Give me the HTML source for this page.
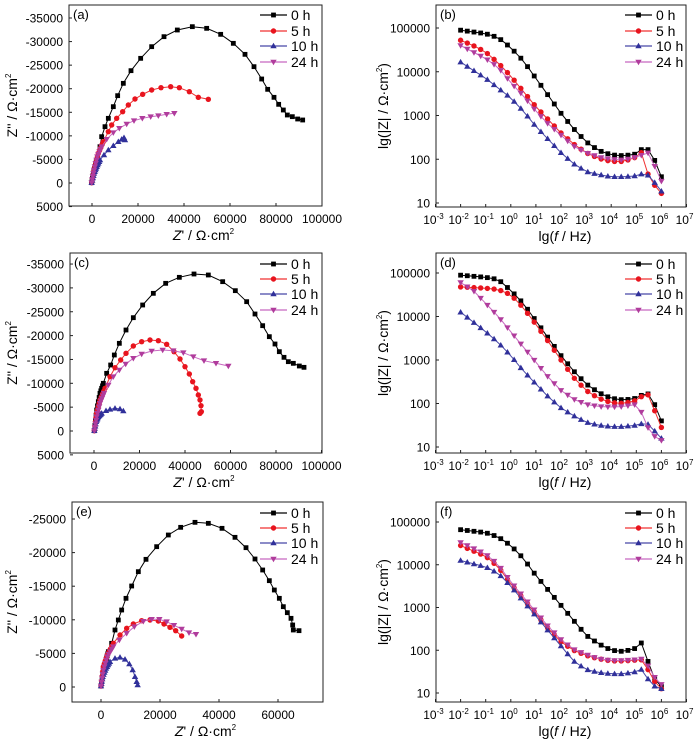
<!DOCTYPE html>
<html><head><meta charset="utf-8">
<style>
html,body{margin:0;padding:0;background:#fff;}
svg{display:block;font-family:"Liberation Sans",Arial,sans-serif;}
</style></head>
<body>
<svg id="s" width="700" height="745" viewBox="0 0 700 745" xmlns="http://www.w3.org/2000/svg"></svg>
<script>
const S=document.getElementById('s');
let h='';
const COL={k:['#000','#000'],r:['#f03030','#e8141e'],b:['#4848a8','#30309a'],m:['#c868c0','#b03c9c']};
function marker(t,x,y,c){
  if(t==='k') return `<rect x="${x-2.4}" y="${y-2.4}" width="4.8" height="4.8" fill="${c}"/>`;
  if(t==='r') return `<circle cx="${x}" cy="${y}" r="2.7" fill="${c}"/>`;
  if(t==='b') return `<polygon points="${x},${y-3.2} ${x+3.2},${y+2.3} ${x-3.2},${y+2.3}" fill="${c}"/>`;
  return `<polygon points="${x},${y+3.2} ${x+3.2},${y-2.3} ${x-3.2},${y-2.3}" fill="${c}"/>`;
}
function series(t,pts,dense){
  h+=`<polyline points="${pts.map(p=>p[0].toFixed(1)+','+p[1].toFixed(1)).join(' ')}" fill="none" stroke="${COL[t][0]}" stroke-width="1"/>`;
  pts.forEach(p=>h+=marker(t,p[0],p[1],COL[t][1]));
  if(dense){ // extra markers near origin
    for(let i=0;i<Math.min(3,pts.length-1);i++){
      const a=pts[i],b=pts[i+1];
      for(let f=0.25;f<1;f+=0.25) h+=marker(t,a[0]+(b[0]-a[0])*f,a[1]+(b[1]-a[1])*f,COL[t][1]);
    }
  }
}
function frame(l,t,r,b){h+=`<rect x="${l}" y="${t}" width="${r-l}" height="${b-t}" fill="none" stroke="#222" stroke-width="1"/>`;}
function legend(x,ys){
  ['k','r','b','m'].forEach((t,i)=>{
    h+=`<line x1="${x}" y1="${ys[i]}" x2="${x+27}" y2="${ys[i]}" stroke="${COL[t][0]}" stroke-width="1.2"/>`;
    h+=marker(t,x+13.5,ys[i],COL[t][1]);
    h+=`<text x="${x+31}" y="${ys[i]+5}" font-size="14">${['0 h','5 h','10 h','24 h'][i]}</text>`;
  });
}
function nyq(o){
  const {l,t,r,b,x0,xs,y0,ys,yt,xt,letter,oy,data,leg}=o;
  frame(l,t,r,b);
  yt.forEach(v=>{const y=y0-v*ys;h+=`<line x1="${l}" y1="${y}" x2="${l+3}" y2="${y}" stroke="#222"/><text x="${l-6}" y="${y+4.5}" font-size="12" text-anchor="end">${v===0?'0':(v>0?'-'+v:(-v))}</text>`;});
  xt.forEach(v=>{const x=x0+v*xs;h+=`<line x1="${x}" y1="${b}" x2="${x}" y2="${b-3}" stroke="#222"/><text x="${x}" y="${b+17}" font-size="12" text-anchor="middle">${v}</text>`;});
  h+=`<text x="${l+4}" y="${t+14}" font-size="13">(${letter})</text>`;
  const cy=(t+b)/2;
  h+=`<text transform="translate(17,${cy}) rotate(-90)" font-size="14" text-anchor="middle">Z'' / Ω·cm<tspan font-size="8" dy="-6">2</tspan></text>`;
  h+=`<text x="${(l+r)/2+8}" y="${b+34}" font-size="14" text-anchor="middle"><tspan font-style="italic">Z</tspan>' / Ω·cm<tspan font-size="8" dy="-6">2</tspan></text>`;
  for(const k in data) series(k,data[k].map(p=>[p[0]/3,oy+p[1]/3]),true);
  legend(260,leg);
}
function bode(o){
  const {t,b,y10,yd,letter,data,leg}=o;
  const l=436,r=686,x3=435.5,xd=25.1;
  frame(l,t,r,b);
  [1,2,3,4,5].forEach(e=>{const y=y10-(e-1)*yd;h+=`<line x1="${l}" y1="${y}" x2="${l+3}" y2="${y}" stroke="#222"/><text x="${l-6}" y="${y+4.5}" font-size="12" text-anchor="end">${Math.pow(10,e)}</text>`;});
  for(let e=-3;e<=7;e++){const x=x3+(e+3)*xd;h+=`<line x1="${x}" y1="${b}" x2="${x}" y2="${b-3}" stroke="#222"/><text x="${x-2}" y="${b+17}" font-size="12" text-anchor="middle">10<tspan font-size="8" dy="-5">${e<0?'-'+(-e):e}</tspan></text>`;}
  h+=`<text x="${l+4}" y="${t+14}" font-size="13">(${letter})</text>`;
  const cy=(t+b)/2;
  h+=`<text transform="translate(388,${cy}) rotate(-90)" font-size="14" text-anchor="middle">lg(|Z| / Ω·cm<tspan font-size="8" dy="-6">2</tspan><tspan dy="6">)</tspan></text>`;
  h+=`<text x="565" y="${b+34}" font-size="14" text-anchor="middle">lg(<tspan font-style="italic">f</tspan> / Hz)</text>`;
  for(const k in data){
    const cp=data[k];const pts=[];
    const N=30;
    for(let i=0;i<=N;i++){
      const lf=-2+8*i/N;let j=0;while(j<cp.length-2&&cp[j+1][0]<lf)j++;
      const a=cp[j],c=cp[j+1];const z=a[1]+(c[1]-a[1])*(lf-a[0])/(c[0]-a[0]);
      pts.push([x3+(lf+3)*xd,y10-(z-1)*yd]);
    }
    series(k,pts,false);
  }
  legend(625,leg);
}
nyq({l:69,t:5,r:322,b:206,x0:92,xs:0.0023,y0:183,ys:0.004714,yt:[35000,30000,25000,20000,15000,10000,5000,0,-5000],xt:[0,20000,40000,60000,80000,100000],letter:'a',oy:0,leg:[15,31,46,62],
data:{
k:[[275,548],[280,520],[285,500],[290,480],[300,440],[305,410],[315,380],[325,355],[340,320],[353,287],[370,250],[393,212],[422,175],[455,140],[492,110],[532,90],[577,80],[620,85],[662,103],[700,130],[735,163],[762,200],[785,237],[803,268],[822,292],[836,313],[850,330],[862,345],[877,350],[893,357],[908,360]],
r:[[275,548],[285,500],[295,460],[310,425],[325,395],[335,375],[350,355],[368,335],[385,315],[405,297],[428,283],[455,270],[483,263],[512,260],[538,263],[568,275],[595,292],[625,298]],
b:[[275,548],[282,520],[290,500],[300,480],[312,465],[325,450],[340,437],[355,425],[365,418],[372,413],[375,420]],
m:[[275,548],[282,510],[292,470],[305,440],[320,418],[340,398],[358,385],[380,372],[402,362],[427,355],[452,350],[475,347],[500,343],[523,340]]}});
nyq({l:70,t:253,r:322,b:453,x0:94,xs:0.002275,y0:431,ys:0.00477,yt:[35000,30000,25000,20000,15000,10000,5000,0,-5000],xt:[0,20000,40000,60000,80000,100000],letter:'c',oy:240,leg:[264,279,294,310],
data:{
k:[[283,572],[290,510],[300,460],[310,430],[320,400],[332,375],[343,345],[358,310],[378,270],[400,233],[428,195],[460,160],[497,130],[538,112],[582,102],[625,105],[668,125],[706,152],[740,185],[765,222],[788,257],[808,290],[825,312],[838,335],[852,352],[865,365],[880,370],[898,378],[912,382]],
r:[[283,572],[290,520],[300,480],[315,445],[330,410],[345,383],[362,360],[378,340],[400,318],[425,305],[450,300],[475,302],[500,313],[522,335],[540,357],[555,380],[568,402],[578,425],[588,445],[595,465],[600,480],[603,497],[604,515],[600,520]],
b:[[283,572],[288,545],[295,530],[305,520],[318,512],[330,508],[345,505],[360,507],[370,513]],
m:[[283,572],[290,530],[300,490],[312,460],[325,435],[340,410],[358,390],[377,372],[400,355],[425,342],[455,333],[488,330],[520,332],[550,338],[580,350],[612,362],[648,370],[685,378]]}});
nyq({l:72,t:502,r:323,b:702,x0:101,xs:0.00295,y0:687,ys:0.00672,yt:[25000,20000,15000,10000,5000,0],xt:[0,20000,40000,60000],letter:'e',oy:480,leg:[513,528,543,559],
data:{
k:[[303,618],[310,570],[318,540],[325,515],[335,490],[345,450],[355,420],[365,390],[378,355],[395,318],[415,275],[438,238],[470,200],[505,165],[542,142],[585,127],[625,130],[666,145],[705,172],[738,203],[765,237],[788,270],[808,302],[823,330],[838,355],[850,380],[862,398],[873,415],[878,435],[880,450],[897,452]],
r:[[303,618],[310,560],[322,525],[340,490],[360,465],[380,445],[400,432],[425,422],[450,420],[475,423],[492,432],[510,442],[527,452],[545,468]],
b:[[303,618],[308,590],[318,565],[330,545],[345,535],[360,532],[375,538],[388,552],[398,570],[405,590],[410,605],[413,615]],
m:[[303,618],[310,570],[322,530],[340,500],[358,480],[380,460],[403,440],[430,424],[455,418],[478,418],[500,425],[522,436],[545,447],[567,458],[588,463]]}});
bode({t:5,b:207,y10:203,yd:43.75,letter:'b',leg:[15,31,46,62],data:{
k:[[-2,4.95],[-1,4.87],[-0.5,4.78],[0,4.55],[0.5,4.25],[1,3.85],[1.5,3.45],[2,3.05],[2.5,2.7],[3,2.4],[3.5,2.2],[4,2.1],[4.5,2.08],[5,2.12],[5.2,2.22],[5.6,2.22],[5.8,1.85],[6,1.6]],
r:[[-2,4.72],[-1.5,4.6],[-1,4.45],[-0.5,4.2],[0,3.9],[0.5,3.55],[1,3.2],[1.5,2.9],[2,2.6],[2.5,2.35],[3,2.15],[3.5,2.02],[4,1.95],[4.5,1.95],[5,2.05],[5.2,2.15],[5.5,1.6],[5.8,1.35],[6,1.22]],
b:[[-2,4.22],[-1,3.85],[0,3.4],[0.5,3.1],[1,2.75],[1.5,2.45],[2,2.15],[2.5,1.9],[3,1.72],[3.5,1.65],[4,1.6],[4.5,1.6],[5,1.62],[5.3,1.68],[5.6,1.6],[5.8,1.4],[6,1.27]],
m:[[-2,4.6],[-1,4.3],[-0.5,4.1],[0,3.75],[0.5,3.45],[1,3.1],[1.5,2.8],[2,2.55],[2.5,2.3],[3,2.15],[3.5,2.05],[4,2.0],[4.5,1.98],[5,2.05],[5.5,2.15],[5.8,1.75],[6,1.5]]}});
bode({t:253,b:453,y10:447,yd:43.5,letter:'d',leg:[264,279,294,310],data:{
k:[[-2,4.95],[-1,4.9],[-0.5,4.85],[0,4.6],[0.5,4.3],[1,3.9],[1.5,3.5],[2,3.1],[2.5,2.75],[3,2.45],[3.5,2.25],[4,2.12],[4.5,2.08],[5,2.12],[5.3,2.22],[5.6,2.22],[5.8,1.85],[6,1.6]],
r:[[-2,4.68],[-1,4.65],[-0.5,4.62],[0,4.5],[0.5,4.2],[1,3.82],[1.5,3.42],[2,3.0],[2.5,2.6],[3,2.3],[3.5,2.12],[4,2.02],[4.5,2.0],[5,2.07],[5.3,2.2],[5.6,2.2],[5.8,1.65],[6,1.45]],
b:[[-2,4.1],[-1,3.65],[-0.5,3.4],[0,3.1],[0.5,2.75],[1,2.45],[1.5,2.15],[2,1.9],[2.5,1.72],[3,1.57],[3.5,1.5],[4,1.47],[4.5,1.47],[5,1.5],[5.3,1.55],[5.6,1.5],[5.8,1.3],[6,1.2]],
m:[[-2,4.78],[-1.5,4.6],[-1,4.3],[-0.5,4.0],[0,3.65],[0.5,3.3],[1,2.95],[1.5,2.6],[2,2.3],[2.5,2.1],[3,1.98],[3.5,1.93],[4,1.92],[4.5,1.93],[5,1.98],[5.2,1.8],[5.5,1.4],[5.8,1.2],[6,1.15]]}});
bode({t:502,b:702,y10:693,yd:42.75,letter:'f',leg:[513,528,543,559],data:{
k:[[-2,4.82],[-1,4.75],[-0.5,4.65],[0,4.45],[0.5,4.15],[1,3.75],[1.5,3.4],[2,3.05],[2.5,2.7],[3,2.35],[3.5,2.15],[4,2.0],[4.5,1.97],[5,2.05],[5.2,2.17],[5.4,1.85],[5.7,1.35],[6,1.15]],
r:[[-2,4.45],[-1,4.2],[-0.5,3.95],[0,3.55],[0.5,3.2],[1,2.85],[1.5,2.5],[2,2.2],[2.5,2.0],[3,1.88],[3.5,1.8],[4,1.75],[4.5,1.75],[5,1.77],[5.3,1.78],[5.5,1.5],[5.8,1.2],[6,1.1]],
b:[[-2,4.1],[-1,3.95],[-0.5,3.8],[0,3.5],[0.5,3.15],[1,2.8],[1.5,2.45],[2,2.1],[2.5,1.75],[3,1.55],[3.5,1.48],[4,1.45],[4.5,1.45],[5,1.5],[5.2,1.55],[5.5,1.3],[5.8,1.12],[6,1.1]],
m:[[-2,4.52],[-1,4.25],[-0.5,4.0],[0,3.6],[0.5,3.25],[1,2.9],[1.5,2.55],[2,2.25],[2.5,2.02],[3,1.9],[3.5,1.8],[4,1.76],[4.5,1.76],[5,1.78],[5.3,1.8],[5.5,1.6],[5.8,1.3],[6,1.2]]}});
S.innerHTML=h;
</script>
</body></html>
